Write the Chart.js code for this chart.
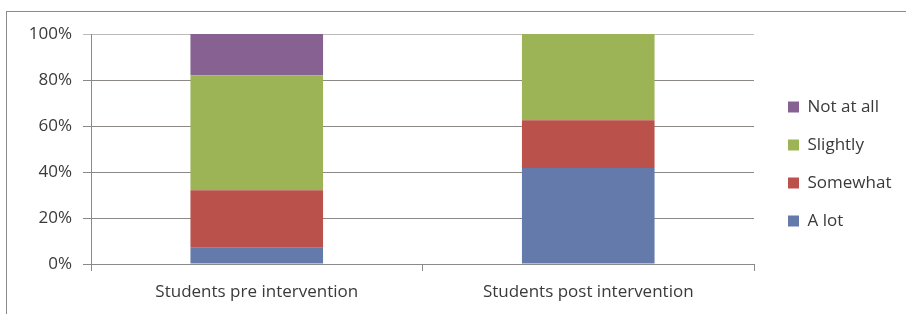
<!DOCTYPE html>
<html>
<head>
<meta charset="utf-8">
<script src="https://cdn.jsdelivr.net/npm/chart.js@4"></script>
<style>
  html, body { margin: 0; padding: 0; background: #fff; }
  #wrap { position: relative; width: 906px; height: 314px; overflow: hidden; }
  #frame { position: absolute; left: 6px; top: 11px; width: 1000px; height: 400px;
           border-left: 1px solid #8a8a8a; border-top: 1px solid #8a8a8a; }
  canvas { position: absolute; left: 0; top: 0; }
</style>
</head>
<body>
<div id="wrap">
  <div id="frame"></div>
  <canvas id="chart" width="906" height="314"></canvas>
</div>
<script>
const categories = ['Students pre intervention', 'Students post intervention'];
const seriesNames = ['A lot', 'Somewhat', 'Slightly', 'Not at all'];
const aLot = [7.1, 41.7];
const somewhat = [25.0, 20.8];
const slightly = [50.0, 37.5];
const notAtAll = [17.9, 0];
const yTicks = [0, 20, 40, 60, 80, 100];

const colors = ['#647aab', '#bb514b', '#9cb455', '#866192'];
const seriesData = [aLot, somewhat, slightly, notAtAll];
const textColor = '#3a3a3a';
const fontFamily = '"Open Sans", Lato, sans-serif';

// fixed legend width, then nudge it to where Excel puts it
const legendShift = {
    id: 'legendShift',
    beforeLayout(chart) {
        const lg = chart.legend;
        if (lg && !lg._fixed) {
            const fit = lg.fit;
            lg.fit = function () {
                fit.call(this);
                this.width = 152;
            };
            lg._fixed = true;
        }
    },
    afterLayout(chart) {
        const lg = chart.legend;
        lg.left += 13;
        lg.right += 13;
        lg.top -= 10;
        lg.bottom -= 10;
    }
};

const ctx = document.getElementById('chart').getContext('2d');

new Chart(ctx, {
    type: 'bar',
    data: {
        labels: categories,
        datasets: seriesNames.map((name, i) => ({
            label: name,
            data: seriesData[i],
            backgroundColor: colors[i],
            borderWidth: 0,
            categoryPercentage: 1,
            barPercentage: 0.4
        }))
    },
    options: {
        responsive: false,
        animation: false,
        layout: {
            padding: { top: 34, left: 0, right: 0, bottom: 0 }
        },
        plugins: {
            legend: {
                position: 'right',
                reverse: true,
                labels: {
                    boxWidth: 11,
                    boxHeight: 11,
                    padding: 21,
                    color: textColor,
                    font: { family: fontFamily, size: 17 }
                }
            },
            tooltip: { enabled: false }
        },
        scales: {
            x: {
                stacked: true,
                grid: {
                    offset: true,
                    drawOnChartArea: false,
                    drawTicks: true,
                    tickLength: 7,
                    color: '#8a8a8a'
                },
                border: { color: '#8a8a8a' },
                ticks: {
                    color: textColor,
                    padding: 11,
                    font: { family: fontFamily, size: 17 }
                },
                afterFit: scale => { scale.height = 50; }
            },
            y: {
                stacked: true,
                min: 0,
                max: 100,
                afterBuildTicks: scale => {
                    scale.ticks = yTicks.map(v => ({ value: v }));
                },
                grid: {
                    tickLength: 8,
                    color: c => c.tick && c.tick.value === 100 ? '#bdbaba' : '#8c8886'
                },
                border: { color: '#8a8a8a' },
                ticks: {
                    color: textColor,
                    padding: 11,
                    font: { family: fontFamily, size: 17 },
                    callback: value => value + '%'
                },
                afterFit: scale => { scale.width = 91; }
            }
        }
    },
    plugins: [legendShift]
});
</script>
</body>
</html>
